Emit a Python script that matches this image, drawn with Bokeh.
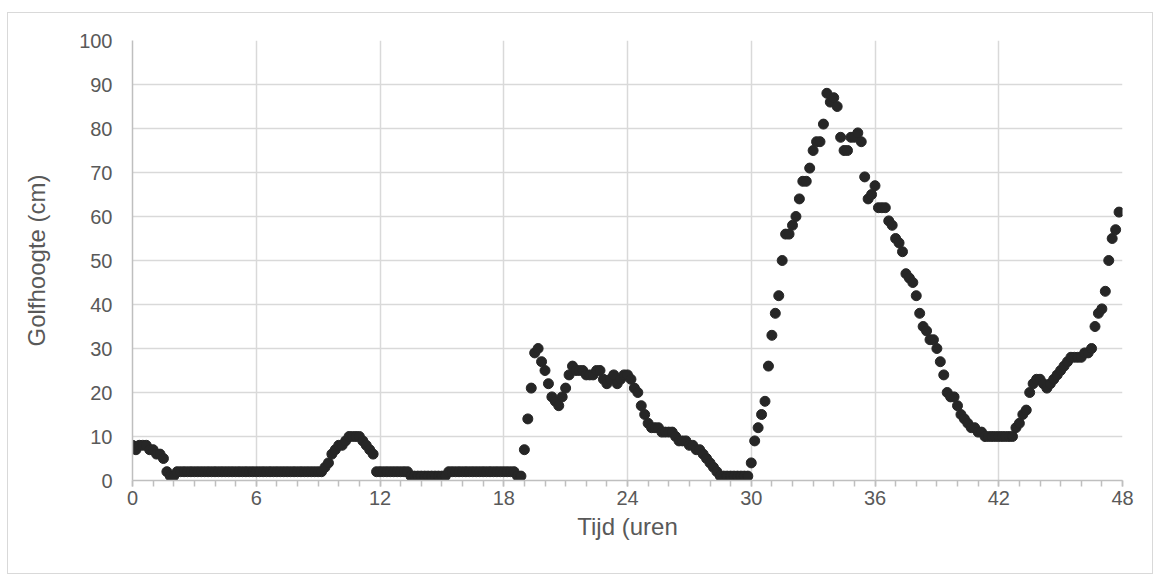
from bokeh.plotting import figure
from bokeh.models import FixedTicker, ColumnDataSource
from bokeh.embed import file_html
from bokeh.resources import INLINE
import numpy as np

# Wave height (cm), one reading every 10 minutes, starting at t = 0 h
golfhoogte = [
    8, 7, 8, 8, 8, 7,        # 0 h
    7, 6, 6, 5, 2, 1,        # 1 h
    1, 2, 2, 2, 2, 2,        # 2 h
    2, 2, 2, 2, 2, 2,        # 3 h
    2, 2, 2, 2, 2, 2,        # 4 h
    2, 2, 2, 2, 2, 2,        # 5 h
    2, 2, 2, 2, 2, 2,        # 6 h
    2, 2, 2, 2, 2, 2,        # 7 h
    2, 2, 2, 2, 2, 2,        # 8 h
    2, 2, 3, 4, 6, 7,        # 9 h
    8, 8, 9, 10, 10, 10,     # 10 h
    10, 9, 8, 7, 6, 2,       # 11 h
    2, 2, 2, 2, 2, 2,        # 12 h
    2, 2, 2, 1, 1, 1,        # 13 h
    1, 1, 1, 1, 1, 1,        # 14 h
    1, 1, 2, 2, 2, 2,        # 15 h
    2, 2, 2, 2, 2, 2,        # 16 h
    2, 2, 2, 2, 2, 2,        # 17 h
    2, 2, 2, 2, 1, 1,        # 18 h
    7, 14, 21, 29, 30, 27,   # 19 h
    25, 22, 19, 18, 17, 19,  # 20 h
    21, 24, 26, 25, 25, 25,  # 21 h
    24, 24, 24, 25, 25, 23,  # 22 h
    22, 23, 24, 22, 23, 24,  # 23 h
    24, 23, 21, 20, 17, 15,  # 24 h
    13, 12, 12, 12, 11, 11,  # 25 h
    11, 11, 10, 9, 9, 9,     # 26 h
    8, 8, 7, 7, 6, 5,        # 27 h
    4, 3, 2, 1, 1, 1,        # 28 h
    1, 1, 1, 1, 1, 1,        # 29 h
    4, 9, 12, 15, 18, 26,    # 30 h
    33, 38, 42, 50, 56, 56,  # 31 h
    58, 60, 64, 68, 68, 71,  # 32 h
    75, 77, 77, 81, 88, 86,  # 33 h
    87, 85, 78, 75, 75, 78,  # 34 h
    78, 79, 77, 69, 64, 65,  # 35 h
    67, 62, 62, 62, 59, 58,  # 36 h
    55, 54, 52, 47, 46, 45,  # 37 h
    42, 38, 35, 34, 32, 32,  # 38 h
    30, 27, 24, 20, 19, 19,  # 39 h
    17, 15, 14, 13, 12, 12,  # 40 h
    11, 11, 10, 10, 10, 10,  # 41 h
    10, 10, 10, 10, 10, 12,  # 42 h
    13, 15, 16, 20, 22, 23,  # 43 h
    23, 22, 21, 22, 23, 24,  # 44 h
    25, 26, 27, 28, 28, 28,  # 45 h
    28, 29, 29, 30, 35, 38,  # 46 h
    39, 43, 50, 55, 57, 61,  # 47 h
]
readings_per_hour = 6
tijd = (np.arange(len(golfhoogte)) / readings_per_hour).tolist()

x_major_ticks = [0, 6, 12, 18, 24, 30, 36, 42, 48]
x_minor_ticks = list(range(0, 49))
y_ticks = [0, 10, 20, 30, 40, 50, 60, 70, 80, 90, 100]

x_label = "Tijd (uren"
y_label = "Golfhoogte (cm)"

FONT = "Liberation Sans"
TXT = "#595959"
GRID = "#d9d9d9"
AXIS = "#bfbfbf"

source = ColumnDataSource(data=dict(tijd=tijd, golfhoogte=golfhoogte))

p = figure(
    width=1146, height=562,
    x_range=(0, 48), y_range=(0, 100),
    output_backend="svg", toolbar_location=None, tools="",
    min_border_left=124, min_border_right=32,
    min_border_top=27, min_border_bottom=95,
)
p.margin = (12, 0, 0, 7)
p.styles = {"border": "1px solid #d9d9d9"}
p.outline_line_color = None
p.background_fill_color = "white"
p.border_fill_color = "white"

p.scatter(x="tijd", y="golfhoogte", source=source, size=10,
          fill_color="#262626", line_color="#262626")

p.xaxis.ticker = FixedTicker(ticks=x_major_ticks, minor_ticks=x_minor_ticks)
p.yaxis.ticker = FixedTicker(ticks=y_ticks)

p.xgrid.grid_line_color = GRID
p.ygrid.grid_line_color = GRID
p.xgrid.grid_line_width = 1.5
p.ygrid.grid_line_width = 1.5

for ax in (p.xaxis, p.yaxis):
    ax.axis_line_color = AXIS
    ax.axis_line_width = 1.5
    ax.major_label_text_font = FONT
    ax.major_label_text_font_size = "20px"
    ax.major_label_text_color = TXT
    ax.axis_label_text_font = FONT
    ax.axis_label_text_font_size = "24px"
    ax.axis_label_text_color = TXT
    ax.axis_label_text_font_style = "normal"

p.xaxis.axis_label = x_label
p.yaxis.axis_label = y_label

p.xaxis.major_tick_in = 0
p.xaxis.major_tick_out = 6
p.xaxis.minor_tick_in = 0
p.xaxis.minor_tick_out = 6
p.xaxis.major_tick_line_color = AXIS
p.xaxis.minor_tick_line_color = AXIS
p.xaxis.major_tick_line_width = 1.5
p.xaxis.minor_tick_line_width = 1.5
p.xaxis.major_label_standoff = 4
p.xaxis.axis_label_standoff = 5

p.yaxis.major_tick_in = 0
p.yaxis.major_tick_out = 0
p.yaxis.minor_tick_in = 0
p.yaxis.minor_tick_out = 0
p.yaxis.major_tick_line_color = None
p.yaxis.minor_tick_line_color = None
p.yaxis.major_label_standoff = 20
p.yaxis.axis_label_standoff = 26

open("out.html", "w").write(file_html(p, INLINE))
